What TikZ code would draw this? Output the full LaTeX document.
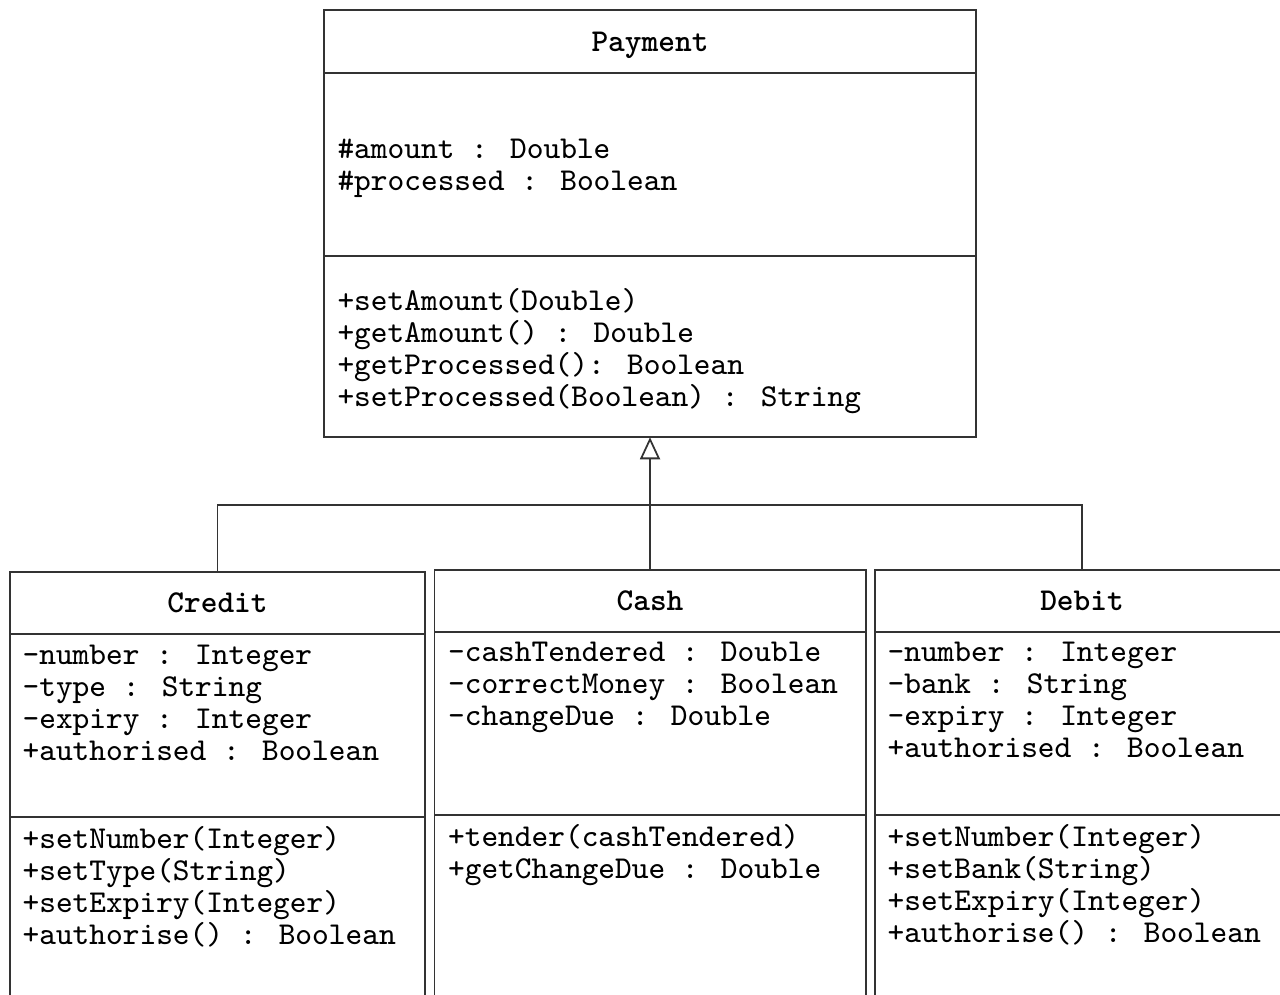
\documentclass[tikz,border=0pt]{standalone}
\usepackage{fontspec}
\usetikzlibrary{positioning,arrows.meta}

\newcommand\umlfont{\fontsize{9.05}{9.1}\selectfont\ttfamily}

\tikzset{
  box/.style={draw=black!80, line width=0.5pt, rectangle, inner sep=0pt, outer sep=0pt, anchor=north},
  classname/.style={box, font=\umlfont\bfseries, text depth=0pt},
  members/.style={font=\umlfont, align=left, inner sep=0pt, anchor=north west},
  connector/.style={draw=black!80, line width=0.5pt},
  inherit/.style={connector, -{Triangle[open, length=0.22cm, width=0.2cm]}},
}

\begin{document}
\begin{tikzpicture}[x=0.01cm, y=-0.01cm]
  \useasboundingbox (0,0) rectangle (1280,995);
  \clip (0,0) rectangle (1280,995);

  % Payment
  \node[classname, minimum width=6.52cm, minimum height=0.63cm] (payTitle) at (650,10) {Payment};
  \node[box, minimum width=6.52cm, minimum height=1.83cm, below=0pt of payTitle] (payAttr) {};
  \node[box, minimum width=6.52cm, minimum height=1.81cm, below=0pt of payAttr] (payMeth) {};
  \node[members, anchor=west] (payAttrText) at ([shift={(13,4)}]payAttr.west)
    {\#amount : Double\\\#processed : Boolean};
  \node[members, anchor=west] (payMethText) at ([shift={(13,4)}]payMeth.west)
    {+setAmount(Double)\\+getAmount() : Double\\+getProcessed(): Boolean\\+setProcessed(Boolean) : String};

  % Credit
  \node[classname, minimum width=4.15cm, minimum height=0.62cm] (creditTitle) at (217.5,572) {Credit};
  \node[box, minimum width=4.15cm, minimum height=1.83cm, below=0pt of creditTitle] (creditAttr) {};
  \node[box, minimum width=4.15cm, minimum height=2.2cm, below=0pt of creditAttr] (creditMeth) {};
  \node[members] (creditAttrText) at ([shift={(12,10)}]creditAttr.north west)
    {-number : Integer\\-type : String\\-expiry : Integer\\+authorised : Boolean};
  \node[members] (creditMethText) at ([shift={(12,9)}]creditMeth.north west)
    {+setNumber(Integer)\\+setType(String)\\+setExpiry(Integer)\\+authorise() : Boolean};

  % Cash
  \node[classname, minimum width=4.31cm, minimum height=0.62cm] (cashTitle) at (650,570) {Cash};
  \node[box, minimum width=4.31cm, minimum height=1.83cm, below=0pt of cashTitle] (cashAttr) {};
  \node[box, minimum width=4.31cm, minimum height=2.2cm, below=0pt of cashAttr] (cashMeth) {};
  \node[members] (cashAttrText) at ([shift={(13,9)}]cashAttr.north west)
    {-cashTendered : Double\\-correctMoney : Boolean\\-changeDue : Double};
  \node[members] (cashMethText) at ([shift={(13,9)}]cashMeth.north west)
    {+tender(cashTendered)\\+getChangeDue : Double};

  % Debit
  \node[classname, minimum width=4.14cm, minimum height=0.62cm] (debitTitle) at (1082,570) {Debit};
  \node[box, minimum width=4.14cm, minimum height=1.83cm, below=0pt of debitTitle] (debitAttr) {};
  \node[box, minimum width=4.14cm, minimum height=2.2cm, below=0pt of debitAttr] (debitMeth) {};
  \node[members] (debitAttrText) at ([shift={(12,9)}]debitAttr.north west)
    {-number : Integer\\-bank : String\\-expiry : Integer\\+authorised : Boolean};
  \node[members] (debitMethText) at ([shift={(12,9)}]debitMeth.north west)
    {+setNumber(Integer)\\+setBank(String)\\+setExpiry(Integer)\\+authorise() : Boolean};

  % generalisation
  \coordinate (join) at (650,505);
  \draw[inherit] (cashTitle.north) -- (payMeth.south);
  \draw[connector] (creditTitle.north) |- (join) -| (debitTitle.north);
\end{tikzpicture}
\end{document}
